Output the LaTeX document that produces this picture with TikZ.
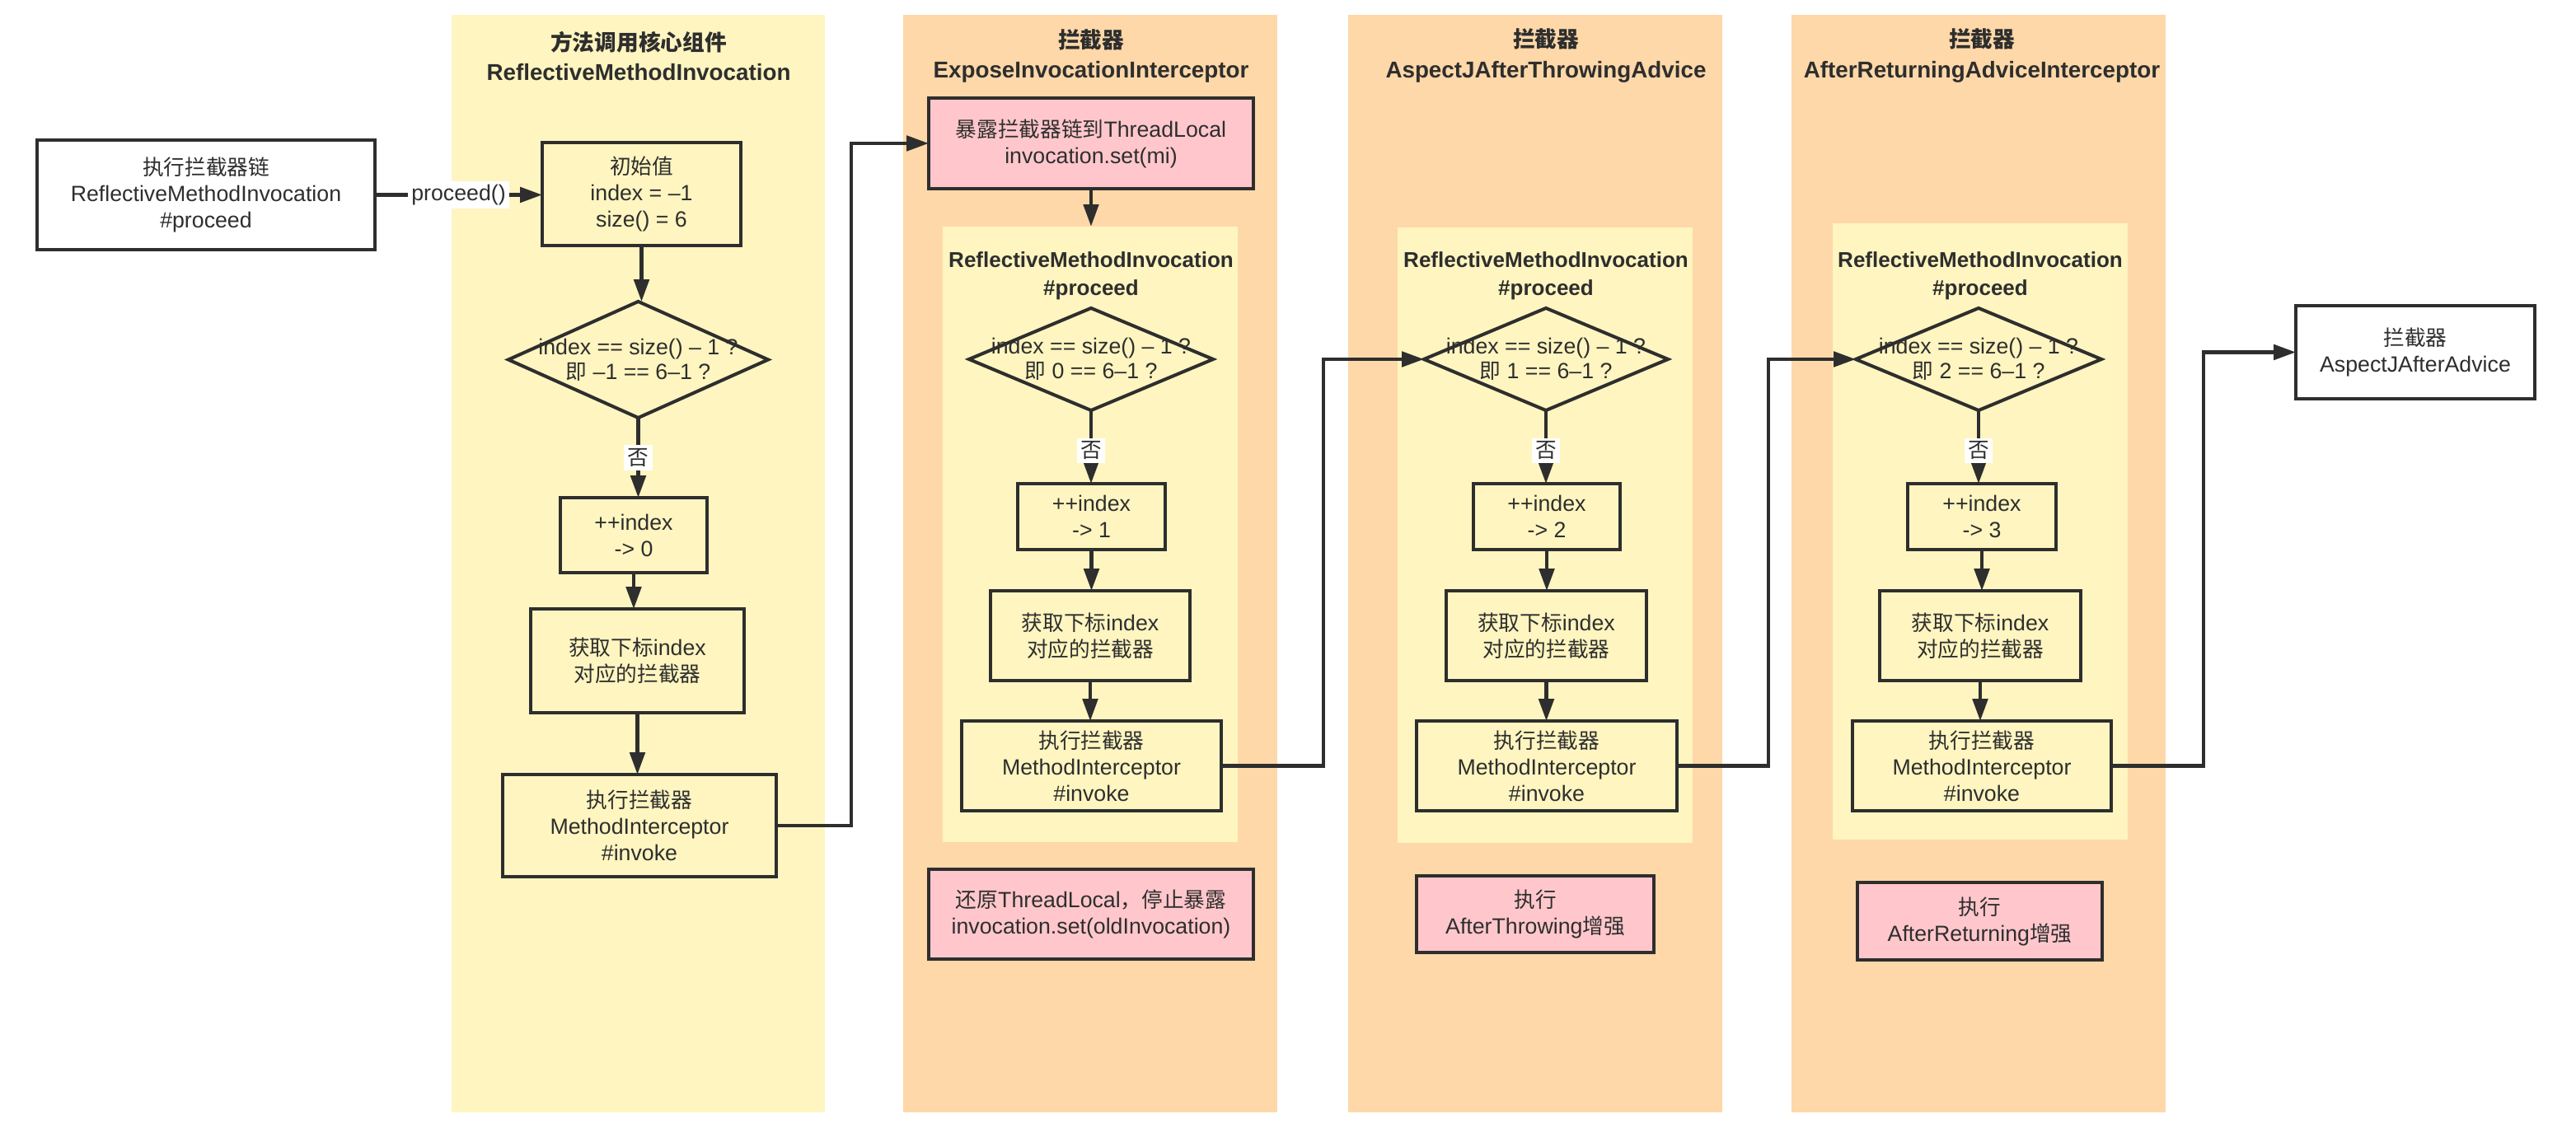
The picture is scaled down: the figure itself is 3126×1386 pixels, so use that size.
\documentclass[tikz,border=0pt]{standalone}
\usepackage{fontspec}
\setmainfont{Liberation Sans}
\newfontfamily\cjk{Noto Sans CJK SC}[Scale=0.96]
\usetikzlibrary{arrows.meta,shapes.geometric}
\definecolor{laneY}{HTML}{FEF5C0}
\definecolor{laneO}{HTML}{FED8A8}
\definecolor{boxy}{HTML}{FEF5C0}
\definecolor{pinkb}{HTML}{FFC7CC}
\definecolor{lc}{HTML}{2E2E2E}
\definecolor{tc}{HTML}{2E2E2E}
\newcommand\bodyfont{\fontsize{7.6}{9.1}\selectfont}
\newcommand\diafont{\fontsize{7.6}{8.5}\selectfont}
\newcommand\titlefont{\fontsize{7.9}{10.5}\selectfont\bfseries}
\newcommand\subtitlefont{\fontsize{7.4}{9.6}\selectfont\bfseries}
\begin{document}
\begin{tikzpicture}[x=0.01cm, y=-0.01cm,
  lane/.style={inner sep=0pt, outer sep=0pt, draw=none},
  box/.style={draw=lc, line width=1.15pt, fill=boxy, align=center, inner sep=0pt, outer sep=0pt, text=tc, font=\bodyfont},
  wbox/.style={box, fill=white},
  pbox/.style={box, fill=pinkb},
  dia/.style={diamond, draw=lc, line width=1.15pt, fill=boxy, inner sep=0pt, outer sep=0pt},
  diatext/.style={align=center, text=tc, font=\diafont, inner sep=0pt},
  ttl/.style={align=center, text=tc, font=\titlefont, inner sep=0pt},
  sttl/.style={align=center, text=tc, font=\subtitlefont, inner sep=0pt},
  arr/.style={draw=lc, line width=1.15pt, -{Triangle[length=7.6pt,width=5.2pt]}},
  no/.style={fill=white, text=tc, font=\bodyfont\cjk, inner sep=1.2pt},
]
\useasboundingbox (0,0) rectangle (3126,1386);

% lanes
\node[lane, fill=laneY, minimum width=4.53cm, minimum height=13.32cm] (lane1) at (774.5,684) {};
\node[lane, fill=laneO, minimum width=4.54cm, minimum height=13.32cm] (lane2) at (1323,684) {};
\node[lane, fill=laneO, minimum width=4.54cm, minimum height=13.32cm] (lane3) at (1863,684) {};
\node[lane, fill=laneO, minimum width=4.54cm, minimum height=13.32cm] (lane4) at (2401,684) {};

% inner lanes
\node[lane, fill=laneY, minimum width=3.58cm, minimum height=7.47cm] (in2) at (1323,648.5) {};
\node[lane, fill=laneY, minimum width=3.58cm, minimum height=7.47cm] (in3) at (1875,649.5) {};
\node[lane, fill=laneY, minimum width=3.58cm, minimum height=7.47cm] (in4) at (2403,645) {};

% titles
\node[ttl] (t1) at (775,68) {{\cjk 方法调用核心组件}\\ReflectiveMethodInvocation};
\node[ttl] (t2) at (1324,68) {{\cjk 拦截器}\\ExposeInvocationInterceptor};
\node[ttl] (t3) at (1876,68) {{\cjk 拦截器}\\AspectJAfterThrowingAdvice};
\node[ttl] (t4) at (2405,68) {{\cjk 拦截器}\\AfterReturningAdviceInterceptor};

\node[sttl] (s2) at (1324,335) {ReflectiveMethodInvocation\\\#proceed};
\node[sttl] (s3) at (1876,335) {ReflectiveMethodInvocation\\\#proceed};
\node[sttl] (s4) at (2403,335) {ReflectiveMethodInvocation\\\#proceed};

% left box
\node[wbox, minimum width=4.10cm, minimum height=1.33cm] (start) at (250,236.5)
  {{\cjk 执行拦截器链}\\ReflectiveMethodInvocation\\\#proceed};

% lane 1
\node[box, minimum width=2.41cm, minimum height=1.25cm] (init) at (778.5,235.5)
  {{\cjk 初始值}\\index = –1\\size() = 6};
\node[dia, minimum width=3.15cm, minimum height=1.41cm] (d1) at (774.5,436.5) {};
\node[diatext] (d1t) at (774.5,436.5) {index == size() – 1 ?\\{\cjk 即} –1 == 6–1 ?};
\node[box, minimum width=1.78cm, minimum height=0.91cm] (i1) at (769,649.5) {++index\\-> 0};
\node[box, minimum width=2.59cm, minimum height=1.26cm] (g1) at (773.5,802) {{\cjk 获取下标}index\\{\cjk 对应的拦截器}};
\node[box, minimum width=3.32cm, minimum height=1.24cm] (e1) at (776,1002) {{\cjk 执行拦截器}\\MethodInterceptor\\\#invoke};

% lane 2
\node[pbox, minimum width=3.94cm, minimum height=1.10cm] (p2) at (1324,174)
  {{\cjk 暴露拦截器链到}ThreadLocal\\invocation.set(mi)};
\node[dia, minimum width=2.96cm, minimum height=1.24cm] (d2) at (1324,436) {};
\node[diatext] (d2t) at (1324,436) {index == size() – 1 ?\\{\cjk 即} 0 == 6–1 ?};
\node[box, minimum width=1.79cm, minimum height=0.80cm] (i2) at (1324.5,627) {++index\\-> 1};
\node[box, minimum width=2.42cm, minimum height=1.09cm] (g2) at (1323,771.5) {{\cjk 获取下标}index\\{\cjk 对应的拦截器}};
\node[box, minimum width=3.15cm, minimum height=1.09cm] (e2) at (1324.5,929.5) {{\cjk 执行拦截器}\\MethodInterceptor\\\#invoke};
\node[pbox, minimum width=3.94cm, minimum height=1.09cm] (r2) at (1324,1109.5)
  {{\cjk 还原}ThreadLocal{\cjk ，停止暴露}\\invocation.set(oldInvocation)};

% lane 3
\node[dia, minimum width=2.96cm, minimum height=1.24cm] (d3) at (1876,436) {};
\node[diatext] (d3t) at (1876,436) {index == size() – 1 ?\\{\cjk 即} 1 == 6–1 ?};
\node[box, minimum width=1.78cm, minimum height=0.80cm] (i3) at (1877,627) {++index\\-> 2};
\node[box, minimum width=2.43cm, minimum height=1.09cm] (g3) at (1876.5,771.5) {{\cjk 获取下标}index\\{\cjk 对应的拦截器}};
\node[box, minimum width=3.16cm, minimum height=1.09cm] (e3) at (1877,929.5) {{\cjk 执行拦截器}\\MethodInterceptor\\\#invoke};
\node[pbox, minimum width=2.88cm, minimum height=0.93cm] (p3) at (1863,1109.5) {{\cjk 执行}\\AfterThrowing{\cjk 增强}};

% lane 4
\node[dia, minimum width=2.98cm, minimum height=1.24cm] (d4) at (2401,436) {};
\node[diatext] (d4t) at (2401,436) {index == size() – 1 ?\\{\cjk 即} 2 == 6–1 ?};
\node[box, minimum width=1.80cm, minimum height=0.80cm] (i4) at (2405,627) {++index\\-> 3};
\node[box, minimum width=2.44cm, minimum height=1.09cm] (g4) at (2403,771.5) {{\cjk 获取下标}index\\{\cjk 对应的拦截器}};
\node[box, minimum width=3.14cm, minimum height=1.09cm] (e4) at (2405,929.5) {{\cjk 执行拦截器}\\MethodInterceptor\\\#invoke};
\node[pbox, minimum width=2.97cm, minimum height=0.94cm] (p4) at (2402.5,1118) {{\cjk 执行}\\AfterReturning{\cjk 增强}};

% final
\node[wbox, minimum width=2.90cm, minimum height=1.13cm] (fin) at (2931,427.5) {{\cjk 拦截器}\\AspectJAfterAdvice};

% bend coordinates
\coordinate (k1) at (1033,600);
\coordinate (k2) at (1606,600);
\coordinate (k3) at (2146,600);
\coordinate (k4) at (2674,600);

% connectors lane 1
\draw[arr] (start.east) -- node[fill=white, text=tc, font=\bodyfont, inner sep=1.2pt] (lp) {proceed()} (start.east -| init.west);
\draw[arr] (init.south) -- (init.south |- d1.north);
\draw[arr] (d1.south) -- node[no, pos=0.5] (n1) {否} (d1.south |- i1.north);
\draw[arr] (i1.south) -- (i1.south |- g1.north);
\draw[arr] (g1.south) -- (g1.south |- e1.north);
\draw[arr] (e1.east) -- (e1.east -| k1) -- (k1 |- p2.west) -- (p2.west);

% lane 2
\draw[arr] (p2.south) -- (p2.south |- in2.north);
\draw[arr] (d2.south) -- node[no, pos=0.55] (n2) {否} (d2.south |- i2.north);
\draw[arr] (i2.south) -- (i2.south |- g2.north);
\draw[arr] (g2.south) -- (g2.south |- e2.north);
\draw[arr] (e2.east) -- (e2.east -| k2) -- (k2 |- d3.west) -- (d3.west);

% lane 3
\draw[arr] (d3.south) -- node[no, pos=0.55] (n3) {否} (d3.south |- i3.north);
\draw[arr] (i3.south) -- (i3.south |- g3.north);
\draw[arr] (g3.south) -- (g3.south |- e3.north);
\draw[arr] (e3.east) -- (e3.east -| k3) -- (k3 |- d4.west) -- (d4.west);

% lane 4
\draw[arr] (d4.south) -- node[no, pos=0.55] (n4) {否} (d4.south |- i4.north);
\draw[arr] (i4.south) -- (i4.south |- g4.north);
\draw[arr] (g4.south) -- (g4.south |- e4.north);
\draw[arr] (e4.east) -- (e4.east -| k4) -- (k4 |- fin.west) -- (fin.west);
\end{tikzpicture}
\end{document}
